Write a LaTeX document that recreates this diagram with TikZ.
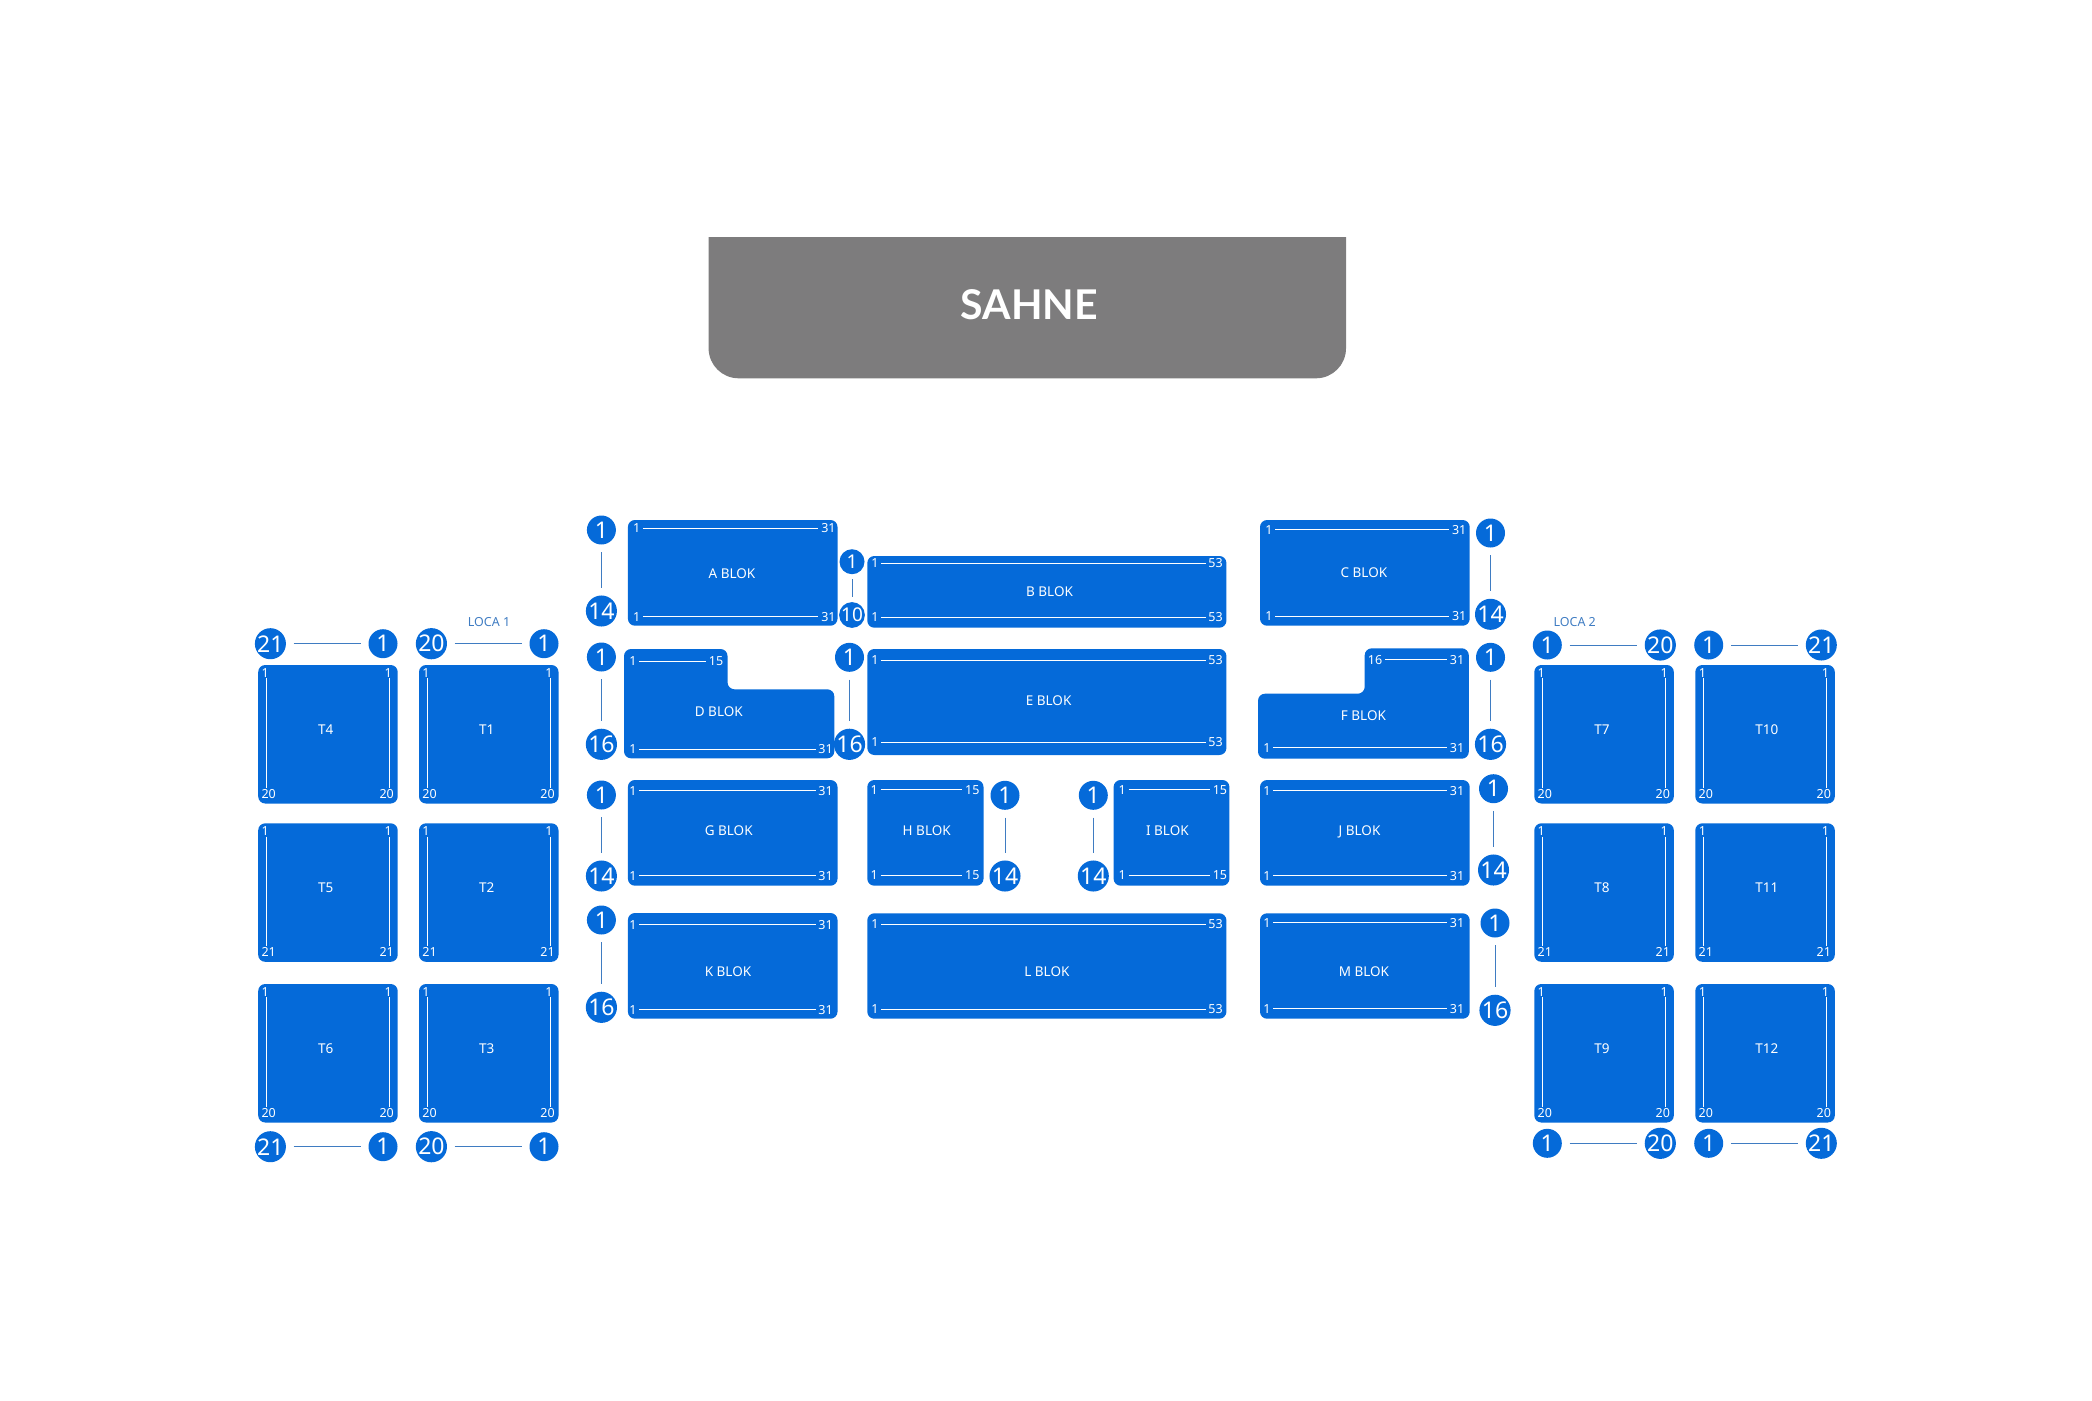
\documentclass[tikz,border=0pt]{standalone}
\usepackage{fontspec}
\setmainfont{Noto Sans}
\newfontfamily\stagefont{Lato}
\definecolor{blokblue}{HTML}{056AD9}
\definecolor{linkblue}{HTML}{3F7CC2}
\definecolor{stagegray}{HTML}{7D7C7D}
\usetikzlibrary{calc}

\begin{document}
\begin{tikzpicture}[x=1pt,y=-1pt,
        blok/.style={fill=blokblue,rounded corners=7pt},
        bloklabel/.style={text=white,inner sep=0pt,font=\fontsize{13.5}{15}\selectfont},
        seatnum/.style={text=white,inner xsep=2.6pt,inner ysep=1pt,font=\fontsize{12.5}{14}\selectfont},
        seatline/.style={draw=white,line width=0.9pt},
        badge/.style={circle,fill=blokblue,text=white,inner sep=0pt,minimum size=29pt,font=\fontsize{23}{25}\selectfont},
        smallbadge/.style={badge,minimum size=25pt,font=\fontsize{19}{21}\selectfont},
        badgelink/.style={draw=linkblue,line width=1pt,shorten >=7.5pt,shorten <=7.5pt},
        locatext/.style={text=linkblue,inner sep=0pt,font=\fontsize{12.5}{14}\selectfont}]
            \useasboundingbox (0,0) rectangle (2092,1400);
            \fill[stagegray] (708.6,237)--(1346,237)[rounded corners=30pt]--(1346,378.3)--(708.6,378.3)[sharp corners]--cycle;
            \node[text=white,inner sep=0pt,font=\stagefont\bfseries\fontsize{41}{44}\selectfont] (sahne) at (1029.4,305) {SAHNE};
            \foreach \nm/\xa/\ya/\xb/\yb/\lx/\ly/\txt in {
                ablok/627.9/520/837.5/625.7/732/573.7/A BLOK,
                bblok/867.3/556/1226.4/627.7/1049.5/591.7/B BLOK,
                cblok/1260/520/1469.7/625.7/1363.9/572.7/C BLOK,
                eblok/867.3/649/1226.4/755/1048.6/700.7/E BLOK,
                gblok/627.9/780/837.5/885.7/728.7/830.7/G BLOK,
                hblok/867.3/780/983.5/885.7/926.7/830.7/H BLOK,
                iblok/1113.6/780/1229.4/885.7/1167.4/830.7/I BLOK,
                jblok/1260/780/1469.7/885.7/1359.5/831.7/J BLOK,
                kblok/627.9/913/837.5/1018.7/728/971.7/K BLOK,
                lblok/867.3/913.3/1226.4/1018.7/1046.9/971.7/L BLOK,
                mblok/1260/913.3/1469.7/1018.7/1363.9/971.7/M BLOK}{
                \fill[blok] (\xa,\ya) rectangle (\xb,\yb);
                \node[bloklabel] (\nm) at (\lx,\ly) {\txt};
            }
            \fill[blok] (624,649)--(727.5,649)--(727.5,689.3)--(834.3,689.3)--(834.3,758.3)--(624,758.3)--cycle;
            \node[bloklabel] (dblok) at (718.8,711.7) {D BLOK};
            \fill[blok] (1364.7,648.3)--(1468.8,648.3)--(1468.8,758.7)--(1258,758.7)--(1258,693.7)--(1364.7,693.7)--cycle;
            \node[bloklabel] (fblok) at (1363.4,715.7) {F BLOK};
            \foreach \nm/\xa/\xb/\ya/\ta/\tb in {
                at/636.6/828.4/528.5/1/31, ab/636.6/828.4/616.7/1/31,
                bt/875/1215.5/563.5/1/53, bb/875/1215.5/617.5/1/53,
                ct/1269/1459.2/529.7/1/31, cb/1269/1459.2/616/1/31,
                dt/633/716/661.3/1/15, db/633/825.6/749.5/1/31,
                et/875/1215.5/660/1/53, eb/875/1215.5/742/1/53,
                ft/1375/1457/659.7/16/31, fb/1267/1457/747.7/1/31,
                gt/633/825.6/790.7/1/31, gb/633/825.6/875.7/1/31,
                ht/874.3/972.3/789.7/1/15, hb/874.3/972.3/875/1/15,
                it/1122.3/1219.9/789.7/1/15, ib/1122.3/1219.9/875/1/15,
                jt/1267/1457/790.7/1/31, jb/1267/1457/875.7/1/31,
                kt/633/825.6/924.7/1/31, kb/633/825.6/1009.7/1/31,
                lt/875/1215.5/924/1/53, lb/875/1215.5/1009.3/1/53,
                mt/1267/1457/922.7/1/31, mb/1267/1457/1008.7/1/31}{
                \node[seatnum] (\nm a) at (\xa,\ya) {\ta};
                \node[seatnum] (\nm z) at (\xb,\ya) {\tb};
                \draw[seatline] (\nm a)--(\nm z);
            }
            \foreach \nm/\xo/\yo/\last in {
                T4/258.2/665/20, T5/258.2/823.3/21, T6/258.2/984/20,
                T1/419/665/20, T2/419/823.3/21, T3/419/984/20,
                T7/1534.3/665/20, T8/1534.3/823.3/21, T9/1534.3/984/20,
                T10/1695.3/665/20, T11/1695.3/823.3/21, T12/1695.3/984/20}{
                \fill[blok] (\xo,\yo) rectangle ++(139.5,138.5);
                \node[bloklabel,anchor=west] (\nm) at (\xo+59.8,\yo+64.7) {\nm};
                \node[seatnum] (\nm la) at (\xo+7,\yo+7.7) {1};
                \node[seatnum] (\nm lz) at (\xo+10.5,\yo+128.8) {\last};
                \node[seatnum] (\nm ra) at (\xo+130,\yo+7.7) {1};
                \node[seatnum] (\nm rz) at (\xo+128.5,\yo+128.8) {\last};
                \draw[seatline] ([xshift=1.2pt]\nm la.south)--([xshift=1.2pt]\nm la.south |- \nm lz.north);
                \draw[seatline] ([xshift=1.2pt]\nm ra.south)--([xshift=1.2pt]\nm ra.south |- \nm rz.north);
            }
            \foreach \nm/\xa/\ya/\xb/\yb/\ta/\tb in {
                av/601.4/530/601.4/611/1/14,
                cv/1490.5/533/1490.5/614.3/1/14,
                dv/601.4/657/601.4/744.3/1/16,
                ev/849.5/657.3/849.5/744.3/1/16,
                fv/1490.5/657.3/1490.5/744.3/1/16,
                gv/601.4/795/601.4/876/1/14,
                hv/1005/795.3/1005/876/1/14,
                iv/1093.3/795.3/1093.3/876/1/14,
                jv/1493.5/788.7/1493.5/870/1/14,
                kv/601.4/920/601.4/1007.3/1/16,
                mv/1495/923/1495/1010.3/1/16,
                ltop/270.4/643.7/383/643.7/21/1,
                ctop/431.4/643.7/544/643.7/20/1,
                lbot/270.4/1146.7/383/1146.7/21/1,
                cbot/431.4/1146.7/544/1146.7/20/1,
                rtop/1547.3/645/1660.3/645/1/20,
                xtop/1708.7/645/1821.3/645/1/21,
                rbot/1547.3/1143.3/1660.3/1143.3/1/20,
                xbot/1708.7/1143.3/1821.3/1143.3/1/21}{
                \node[badge] (\nm a) at (\xa,\ya) {\ta};
                \node[badge] (\nm z) at (\xb,\yb) {\tb};
                \draw[badgelink] (\nm a)--(\nm z);
            }
            \node[smallbadge] (bva) at (852,561.7) {1};
            \node[smallbadge] (bvz) at (852,615) {10};
            \draw[badgelink,shorten >=5pt,shorten <=5pt] (bva)--(bvz);
            \node[locatext] (loca1) at (489,621.7) {LOCA 1};
            \node[locatext] (loca2) at (1574.7,622) {LOCA 2};
        \end{tikzpicture}
\end{document}
